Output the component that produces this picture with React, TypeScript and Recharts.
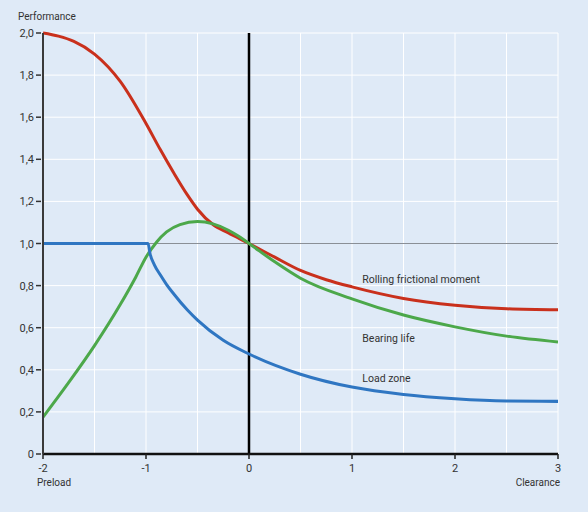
import { LineChart, Line, XAxis, YAxis, CartesianGrid, ReferenceLine, ReferenceDot } from 'recharts';

// Rolling frictional moment (red)
const frictionX = [-2, -1.85, -1.7, -1.5, -1.25, -1, -0.86, -0.73, -0.6, -0.5, -0.35, -0.2, 0, 0.25, 0.5, 0.75, 1, 1.5, 2, 2.5, 3];
const frictionY = [2.0, 1.985, 1.96, 1.9, 1.77, 1.57, 1.445, 1.335, 1.232, 1.163, 1.09, 1.05, 1.0, 0.935, 0.872, 0.828, 0.794, 0.739, 0.707, 0.69, 0.685];

// Bearing life (green)
const lifeX = [-2, -1.75, -1.5, -1.25, -1.1, -1, -0.9, -0.8, -0.67, -0.5, -0.35, -0.2, -0.1, 0, 0.25, 0.5, 1, 1.5, 2, 2.5, 3];
const lifeY = [0.175, 0.34, 0.515, 0.71, 0.84, 0.935, 1.005, 1.055, 1.09, 1.104, 1.093, 1.063, 1.034, 1.0, 0.913, 0.835, 0.737, 0.66, 0.604, 0.56, 0.532];

// Load zone (blue)
const loadX = [-2, -1.5, -0.98, -0.96, -0.92, -0.86, -0.8, -0.73, -0.6, -0.5, -0.25, 0, 0.5, 1, 1.5, 2, 2.5, 3];
const loadY = [1.0, 1.0, 1.0, 0.95, 0.9, 0.85, 0.805, 0.76, 0.685, 0.636, 0.54, 0.475, 0.379, 0.318, 0.283, 0.263, 0.252, 0.25];

const xTicks = [-2, -1.5, -1, -0.5, 0, 0.5, 1, 1.5, 2, 2.5, 3];
const yTicks = [0, 0.2, 0.4, 0.6, 0.8, 1.0, 1.2, 1.4, 1.6, 1.8, 2.0];

const curveLabels = [
  { x: 1.1, y: 0.83, text: 'Rolling frictional moment' },
  { x: 1.1, y: 0.55, text: 'Bearing life' },
  { x: 1.1, y: 0.36, text: 'Load zone' },
];

const toPoints = (xs: number[], ys: number[]) => xs.map((x, i) => ({ x, y: ys[i] }));

const frictionData = toPoints(frictionX, frictionY);
const lifeData = toPoints(lifeX, lifeY);
const loadData = toPoints(loadX, loadY);

const font = 'Roboto, "DejaVu Sans", sans-serif';
const textColor = '#333';

// x ticks: gridlines every 0.5, but marks and labels only on whole numbers
const XTick = (props: any) => {
  const { x, y, payload } = props;
  if (!Number.isInteger(payload.value)) return null;
  return (
    <g>
      <line x1={x} x2={x} y1={y - 8} y2={y - 3} stroke="#222" strokeWidth={1.5} />
      <text x={x} y={y + 10} textAnchor="middle" fontSize={11} fill={textColor} fontFamily={font}>
        {payload.value}
      </text>
    </g>
  );
};

const YTick = (props: any) => {
  const { x, y, payload } = props;
  const label = payload.value === 0 ? '0' : payload.value.toFixed(1).replace('.', ',');
  return (
    <g>
      <line x1={x + 1} x2={x + 6} y1={y} y2={y} stroke="#333" strokeWidth={1.5} />
      <text x={x - 1} y={y + 4} textAnchor="end" fontSize={11} fill={textColor} fontFamily={font}>
        {label}
      </text>
    </g>
  );
};

export default function App() {
  return (
    <div style={{ position: 'absolute', left: 0, top: 0, width: 588, height: 512, background: '#dfeaf7' }}>
      <LineChart width={588} height={512} margin={{ top: 33, right: 30, left: 0, bottom: 28 }}>
        <CartesianGrid stroke="#ffffff" strokeWidth={1} />
        <XAxis
          type="number"
          dataKey="x"
          domain={[-2, 3]}
          ticks={xTicks}
          interval={0}
          tick={<XTick />}
          tickLine={false}
          axisLine={{ stroke: '#111', strokeWidth: 2.5 }}
          height={30}
          allowDataOverflow
        />
        <YAxis
          type="number"
          dataKey="y"
          domain={[0, 2]}
          ticks={yTicks}
          interval={0}
          tick={<YTick />}
          tickLine={false}
          axisLine={{ stroke: '#3a3a3a', strokeWidth: 2 }}
          width={43}
        />
        <ReferenceLine y={1} stroke="#8a8f96" strokeWidth={1.2} />
        <ReferenceLine x={0} stroke="#000" strokeWidth={2.5} />
        <Line data={frictionData} dataKey="y" type="monotone" stroke="#c9301c" strokeWidth={3} dot={false} isAnimationActive={false} />
        <Line data={lifeData} dataKey="y" type="monotone" stroke="#4ca84a" strokeWidth={3} dot={false} isAnimationActive={false} />
        <Line data={loadData} dataKey="y" type="monotone" stroke="#2f76c2" strokeWidth={3} dot={false} isAnimationActive={false} />
        {curveLabels.map((l) => (
          <ReferenceDot
            key={l.text}
            x={l.x}
            y={l.y}
            r={0}
            stroke="none"
            label={{ value: l.text, position: 'right', offset: 0, fontSize: 10.5, fill: textColor, fontFamily: font }}
          />
        ))}
        <text x={18} y={20} fontSize={10} fill={textColor} fontFamily={font}>Performance</text>
        <text x={37} y={486} fontSize={10} fill={textColor} fontFamily={font}>Preload</text>
        <text x={560} y={486} textAnchor="end" fontSize={10} fill={textColor} fontFamily={font}>Clearance</text>
      </LineChart>
    </div>
  );
}
